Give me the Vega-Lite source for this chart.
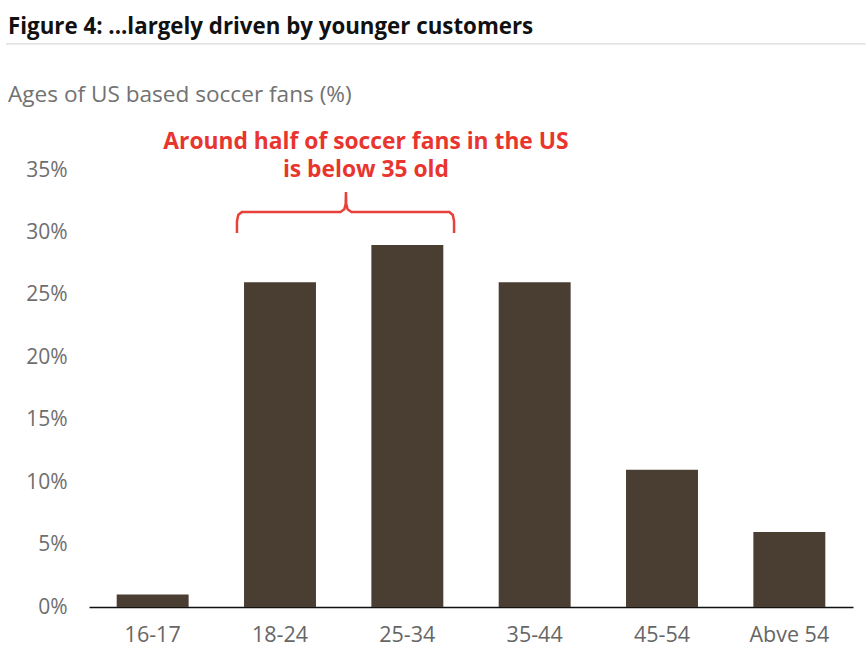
{
  "$schema": "https://vega.github.io/schema/vega-lite/v6.json",
  "width": 764,
  "height": 437,
  "autosize": "none",
  "padding": {"left": 89, "top": 170, "right": 13, "bottom": 54},
  "background": "white",
  "config": {"view": {"stroke": null}, "font": "Open Sans"},
  "title": {
    "text": "Figure 4: ...largely driven by younger customers",
    "subtitle": "Ages of US based soccer fans (%)",
    "anchor": "start",
    "frame": "group",
    "dx": -81,
    "dy": 63,
    "offset": 0,
    "font": "Open Sans",
    "fontSize": 22.3,
    "fontWeight": "bold",
    "color": "#111111",
    "subtitleFont": "Open Sans",
    "subtitleFontSize": 22.6,
    "subtitleColor": "#727272",
    "subtitlePadding": 45
  },
  "datasets": {
    "fans": [
      {"age": "16-17", "pct": 1},
      {"age": "18-24", "pct": 26},
      {"age": "25-34", "pct": 29},
      {"age": "35-44", "pct": 26},
      {"age": "45-54", "pct": 11},
      {"age": "Abve 54", "pct": 6}
    ],
    "brace": [
      {"i": 0, "bx": 1.162, "by": 29.95},
      {"i": 1, "bx": 1.162, "by": 30.9},
      {"i": 2, "bx": 1.172, "by": 31.4},
      {"i": 3, "bx": 1.2, "by": 31.64},
      {"i": 4, "bx": 1.975, "by": 31.64},
      {"i": 5, "bx": 2.005, "by": 31.85},
      {"i": 6, "bx": 2.016, "by": 32.3},
      {"i": 7, "bx": 2.018, "by": 33.24},
      {"i": 8, "bx": 2.02, "by": 32.3},
      {"i": 9, "bx": 2.031, "by": 31.85},
      {"i": 10, "bx": 2.061, "by": 31.64},
      {"i": 11, "bx": 2.83, "by": 31.64},
      {"i": 12, "bx": 2.857, "by": 31.4},
      {"i": 13, "bx": 2.867, "by": 30.9},
      {"i": 14, "bx": 2.867, "by": 29.95}
    ],
    "note": [
      {"note": "Around half of soccer fans in the US\nis below 35 old"}
    ],
    "separator": [
      {"x0": -0.652, "x1": 6.1, "level": 45.1}
    ]
  },
  "resolve": {"scale": {"x": "independent"}},
  "layer": [
    {
      "data": {"name": "fans"},
      "mark": {"type": "bar", "color": "#4a3d31"},
      "encoding": {
        "x": {
          "field": "age",
          "type": "nominal",
          "sort": null,
          "scale": {"paddingInner": 0.435, "paddingOuter": 0.2175},
          "axis": {
            "title": null,
            "labelAngle": 0,
            "domain": true,
            "domainColor": "#111111",
            "domainWidth": 1.5,
            "ticks": false,
            "labelFont": "Open Sans",
            "labelFontSize": 21.5,
            "labelColor": "#666666",
            "labelPadding": 17
          }
        },
        "y": {
          "field": "pct",
          "type": "quantitative",
          "scale": {"domain": [0, 35], "nice": false},
          "axis": {
            "title": null,
            "values": [0, 5, 10, 15, 20, 25, 30, 35],
            "labelExpr": "datum.value + '%'",
            "grid": false,
            "domain": false,
            "ticks": false,
            "labelPadding": 22,
            "labelFont": "Open Sans",
            "labelFontSize": 21,
            "labelColor": "#6e6e6e"
          }
        }
      }
    },
    {
      "data": {"name": "brace"},
      "mark": {"type": "line", "color": "#e8403a", "strokeWidth": 2.5, "clip": false},
      "encoding": {
        "x": {"field": "bx", "type": "quantitative", "scale": {"domain": [0, 6], "nice": false, "zero": false}, "axis": null},
        "y": {"field": "by", "type": "quantitative", "scale": {"domain": [0, 35], "nice": false}},
        "order": {"field": "i", "type": "quantitative"}
      }
    },
    {
      "data": {"name": "note"},
      "mark": {
        "type": "text",
        "color": "#e8352e",
        "font": "Open Sans",
        "fontSize": 22.8,
        "fontWeight": "bold",
        "align": "center",
        "baseline": "alphabetic",
        "lineBreak": "\n",
        "lineHeight": 28
      },
      "encoding": {
        "x": {"datum": 2.175, "type": "quantitative", "scale": {"domain": [0, 6], "nice": false, "zero": false}, "axis": null},
        "y": {"datum": 36.68, "type": "quantitative", "scale": {"domain": [0, 35], "nice": false}},
        "text": {"field": "note"}
      }
    },
    {
      "data": {"name": "separator"},
      "mark": {"type": "rule", "color": "#d0d0d0", "strokeWidth": 1, "clip": false},
      "encoding": {
        "x": {"field": "x0", "type": "quantitative", "scale": {"domain": [0, 6], "nice": false, "zero": false}, "axis": null},
        "x2": {"field": "x1"},
        "y": {"field": "level", "type": "quantitative", "scale": {"domain": [0, 35], "nice": false}}
      }
    }
  ]
}
